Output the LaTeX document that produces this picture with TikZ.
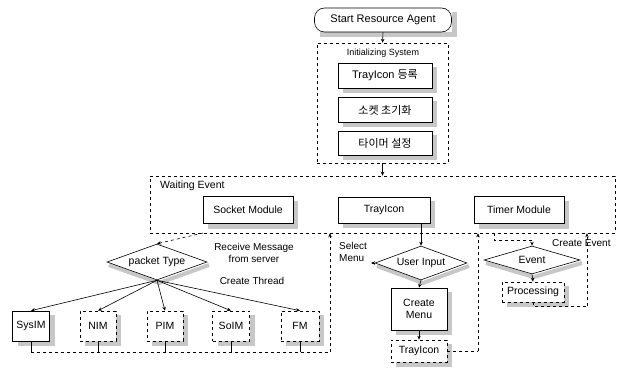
\documentclass[tikz,border=0pt]{standalone}
\usepackage{fontspec}
\setmainfont{Liberation Sans}
\newfontfamily\kr{Noto Sans CJK KR}
\usetikzlibrary{shapes.geometric,arrows.meta}
\begin{document}
\begin{tikzpicture}[x=1pt,y=-1pt,
  txt/.style={font=\fontsize{10}{11.5}\selectfont, inner sep=0pt},
  box/.style={draw, fill=white, inner sep=1pt, line width=0.6pt, font=\fontsize{10.5}{12}\selectfont},
  dbox/.style={box, dashed},
  frame/.style={draw, dashed, line width=0.5pt, inner sep=0pt},
  dia/.style={draw, diamond, aspect=2.8, inner sep=0pt, fill=white, line width=0.6pt, font=\fontsize{10.5}{12}\selectfont},
  arr/.style={-{Stealth[length=4pt,width=3.5pt]}, line width=0.6pt},
  darr/.style={arr, dashed},
  dline/.style={dashed, line width=0.5pt},
  shd/.style={draw=black!22, line width=5pt, line join=miter}
]
\useasboundingbox (0,0) rectangle (622,369);

% shadows along the right and lower edges
\draw[shd] (454,12) -- (454,34.5) -- (319.5,34.5);
\draw[shd] (434.5,67) -- (434.5,90.5) -- (343,90.5);
\draw[shd] (434.5,101.5) -- (434.5,125) -- (343,125);
\draw[shd] (434.5,135) -- (434.5,157.5) -- (343,157.5);
\draw[shd] (295.5,200.5) -- (295.5,226) -- (208,226);
\draw[shd] (432.5,201) -- (432.5,225.5) -- (343,225.5);
\draw[shd] (566.5,200.5) -- (566.5,226) -- (479,226);
\draw[shd] (52,315) -- (52,343.5) -- (17.5,343.5);
\draw[shd] (118.5,315) -- (118.5,343.5) -- (85,343.5);
\draw[shd] (185.5,315) -- (185.5,343.5) -- (152,343.5);
\draw[shd] (252,315) -- (252,343.5) -- (217.5,343.5);
\draw[shd] (321.5,315) -- (321.5,343.5) -- (286,343.5);
\draw[shd] (449.5,292) -- (449.5,332.5) -- (396,332.5);
\draw[shd] (449.5,344) -- (449.5,364.5) -- (396,364.5);
\draw[shd] (566.5,286) -- (566.5,304.5) -- (507,304.5);
\draw[shd, line width=4pt] (209,265) -- (159,283) -- (109,265);
\draw[shd, line width=4pt] (469,266) -- (423,283) -- (377,266);
\draw[shd, line width=4pt] (582,263) -- (534,277) -- (486,263);

% top part
\node[box, rounded corners=10pt, minimum width=137, minimum height=24, font=\fontsize{11}{13}\selectfont] (start) at (383,20) {Start Resource Agent};
\node[frame, minimum width=131, minimum height=120] (init) at (382.5,103) {};
\node[txt, font=\fontsize{9}{10}\selectfont] (initl) at (383,53) {Initializing System};
\node[box, minimum width=94, minimum height=25, font=\fontsize{11}{13}\selectfont] (tray1) at (385,75.5) {TrayIcon {\kr 등록}};
\node[box, minimum width=94, minimum height=25, font=\fontsize{11}{13}\kr] (sock1) at (385,110) {소켓 초기화};
\node[box, minimum width=94, minimum height=24, font=\fontsize{11}{13}\kr] (timer1) at (385,143) {타이머 설정};
\draw[arr] (start.south) -- (init.north);

% waiting event
\node[frame, minimum width=465, minimum height=57] (wait) at (382.5,204.5) {};
\node[txt, anchor=west, font=\fontsize{10.5}{12}\selectfont] (waitl) at (160,186) {Waiting Event};
\draw[arr] (init.south) -- (init.south |- wait.north);
\node[box, minimum width=90, minimum height=27] (sockmod) at (248,210) {Socket Module};
\node[box, minimum width=92, minimum height=26] (traymod) at (384,210) {TrayIcon};
\node[box, minimum width=90, minimum height=27] (timermod) at (519,210) {Timer Module};

% socket branch
\node[dia, minimum width=100, minimum height=36] (ptype) at (157,262) {packet Type};
\coordinate (sockout) at (203,233);
\draw[darr] (sockout) -- (ptype.north);
\node[txt, align=center] (recv) at (254,253) {Receive Message\\from server};
\node[txt] (cthread) at (252,281) {Create Thread};

\node[box, minimum width=37, minimum height=30] (sysim) at (31,326) {SysIM};
\node[dbox, minimum width=36, minimum height=30] (nim) at (98,326) {NIM};
\node[dbox, minimum width=36, minimum height=30] (pim) at (165,326) {PIM};
\node[dbox, minimum width=37, minimum height=30] (soim) at (231,326) {SoIM};
\node[dbox, minimum width=38, minimum height=30] (fm) at (300,326) {FM};
\foreach \m in {sysim,nim,pim,soim,fm}{
  \draw[arr] (ptype.south) -- (\m.north);
  \draw[line width=0.5pt] (\m.south) -- (\m.south |- 0,352);
}
\coordinate (loopl) at (330,352);
\draw[dline] (sysim.south |- 0,352) -- (loopl);
\draw[darr] (loopl) -- (loopl |- wait.south);

% trayicon branch
\node[dia, minimum width=92, minimum height=34] (ui) at (421,263) {User Input};
\draw[arr] (traymod.south -| ui.north) -- (ui.north);
\coordinate (selm) at (371,263);
\draw[arr] (ui.west) -- (selm);
\node[txt, align=left, anchor=west] (selt) at (339,252) {Select\\Menu};
\node[box, minimum width=56, minimum height=42, align=center] (cmenu) at (419,309) {Create\\Menu};
\draw[arr] (ui.south) -- (cmenu.north);
\node[dbox, minimum width=56, minimum height=22] (tray2) at (419,351) {TrayIcon};
\draw[arr] (cmenu.south) -- (tray2.north);
\coordinate (loopm) at (478,351);
\draw[dline] (tray2.east) -- (loopm);
\draw[darr] (loopm) -- (loopm |- wait.south);

% timer branch
\node[dia, minimum width=96, minimum height=28] (ev) at (532,260) {Event};
\coordinate (tmout) at (494,233);
\draw[darr] (tmout) -- (494,240) -- (532,240) -- (ev.north);
\node[dbox, minimum width=62, minimum height=20] (proc) at (533,292) {Processing};
\draw[arr] (ev.south) -- (proc.north);
\coordinate (loopr) at (587,306);
\draw[dline] (proc.south) -- (proc.south |- loopr) -- (loopr);
\draw[darr] (loopr) -- (loopr |- wait.south);
\node[txt, anchor=west] (cev) at (552,243) {Create Event};
\end{tikzpicture}
\end{document}
